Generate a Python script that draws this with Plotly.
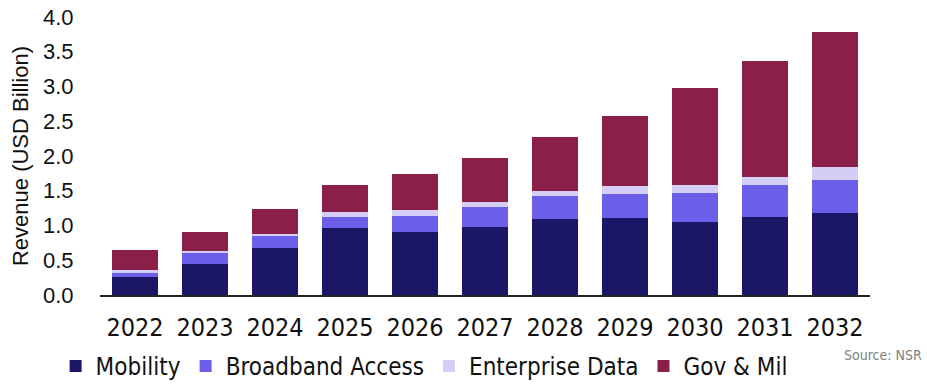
import plotly.graph_objects as go

years = ["2022", "2023", "2024", "2025", "2026", "2027", "2028", "2029", "2030", "2031", "2032"]
mobility = [0.26, 0.45, 0.68, 0.96, 0.91, 0.98, 1.09, 1.11, 1.05, 1.12, 1.18]
broadband = [0.05, 0.16, 0.17, 0.16, 0.23, 0.28, 0.33, 0.35, 0.42, 0.46, 0.48]
enterprise = [0.05, 0.02, 0.03, 0.08, 0.08, 0.08, 0.08, 0.11, 0.11, 0.12, 0.18]
govmil = [0.29, 0.27, 0.36, 0.38, 0.52, 0.63, 0.77, 1.01, 1.40, 1.67, 1.94]
y_ticks = [0.0, 0.5, 1.0, 1.5, 2.0, 2.5, 3.0, 3.5, 4.0]

series = [
    ("Mobility", mobility, "#1b1766"),
    ("Broadband Access", broadband, "#6b5ee8"),
    ("Enterprise Data", enterprise, "#d4cdf6"),
    ("Gov & Mil", govmil, "#8a1f4a"),
]

COND = "DejaVu Sans Condensed, Liberation Sans Narrow, Roboto"

fig = go.Figure()
for name, vals, col in series:
    fig.add_trace(go.Bar(x=years, y=vals, name=name, marker=dict(color=col, line=dict(width=0))))

fig.update_layout(
    barmode="stack",
    bargap=0.33,
    width=927, height=389,
    margin=dict(l=100, r=57, t=17, b=94, autoexpand=False),
    plot_bgcolor="white", paper_bgcolor="white",
    font=dict(family=COND, color="#111111"),
    legend=dict(orientation="h", x=0.06, xref="container", xanchor="left",
                y=-0.035, yanchor="bottom", yref="container",
                font=dict(size=24, family=COND), traceorder="normal",
                itemwidth=30, tracegroupgap=0),
    showlegend=True,
)
fig.update_xaxes(
    showline=True, linecolor="#222222", linewidth=1.5,
    ticks="outside", ticklen=9, tickcolor="rgba(0,0,0,0)",
    tickfont=dict(size=25, family=COND),
    showgrid=False, automargin=False,
)
fig.update_yaxes(
    range=[0, 4.0], tickvals=y_ticks, ticktext=[f"{v:.1f}" for v in y_ticks],
    ticks="outside", ticklen=21, tickcolor="rgba(0,0,0,0)",
    tickfont=dict(size=22, family="Liberation Sans, Arial"),
    showgrid=False, zeroline=False, showline=False, automargin=False,
    title=dict(text="Revenue (USD Billion)", font=dict(size=22, family="Liberation Sans, Arial"), standoff=8),
)
fig.add_annotation(text="Source: NSR", xref="paper", yref="paper", x=1.07, y=-0.215,
                   xanchor="right", yanchor="middle", showarrow=False,
                   font=dict(size=14, color="#808080", family=COND))
fig.write_html("out.html")
